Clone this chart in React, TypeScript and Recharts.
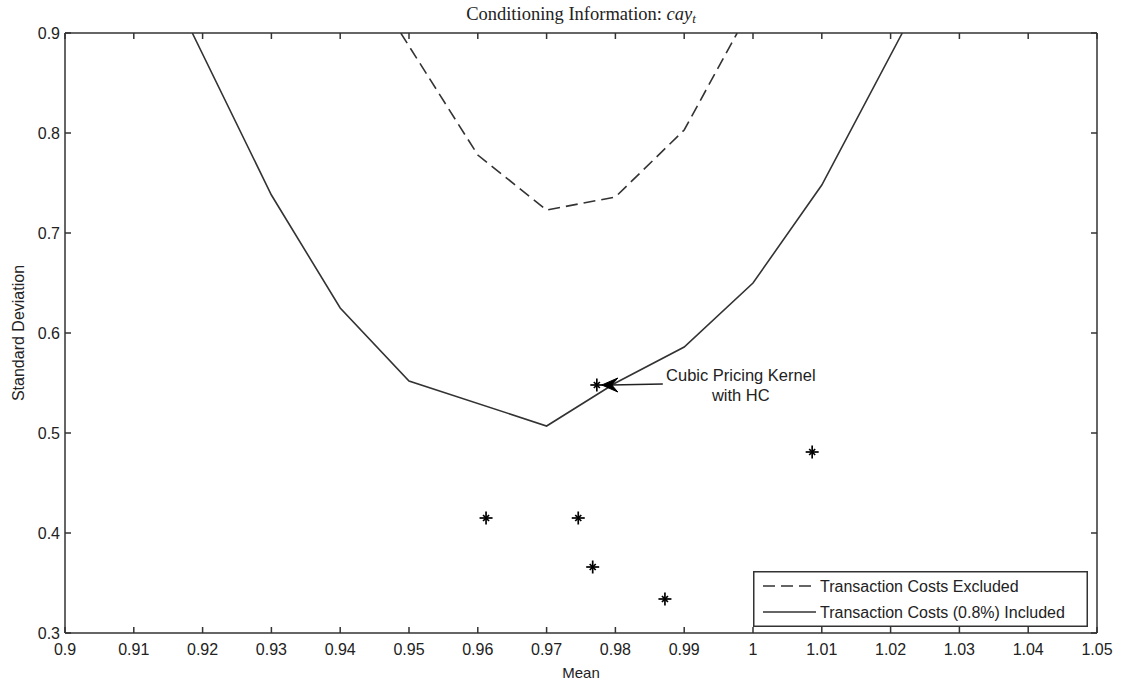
import React from 'react';
import { ComposedChart, Line, Scatter, XAxis, YAxis, Legend, ReferenceDot } from 'recharts';

const xTicks = [0.9, 0.91, 0.92, 0.93, 0.94, 0.95, 0.96, 0.97, 0.98, 0.99, 1.0, 1.01, 1.02, 1.03, 1.04, 1.05];
const yTicks = [0.3, 0.4, 0.5, 0.6, 0.7, 0.8, 0.9];

const excludedMean = [0.9488, 0.96, 0.97, 0.98, 0.99, 0.9977];
const excludedStd = [0.9, 0.778, 0.723, 0.736, 0.803, 0.9];

const includedMean = [0.9185, 0.93, 0.94, 0.95, 0.97, 0.98, 0.99, 1.0, 1.01, 1.0217];
const includedStd = [0.9, 0.738, 0.625, 0.552, 0.507, 0.55, 0.586, 0.65, 0.748, 0.9];

const kernelMean = [0.9612, 0.9746, 0.9767, 0.9872, 1.0086, 0.9773];
const kernelStd = [0.415, 0.415, 0.366, 0.334, 0.481, 0.548];

const annotationMean = 0.9773;
const annotationStd = 0.548;
const annotationLines = ['Cubic Pricing Kernel', 'with HC'];

const seriesNames = ['Transaction Costs Excluded', 'Transaction Costs (0.8%) Included'];
const titleText = 'Conditioning Information: ';
const titleVar = 'cay';
const titleSub = 't';
const xLabel = 'Mean';
const yLabel = 'Standard Deviation';

const excludedData = excludedMean.map((m, i) => ({ x: m, y: excludedStd[i] }));
const includedData = includedMean.map((m, i) => ({ x: m, y: includedStd[i] }));
const kernelData = kernelMean.map((m, i) => ({ x: m, y: kernelStd[i] }));

const SANS = 'Liberation Sans, Arial, Helvetica, sans-serif';
const SERIF = 'Liberation Serif, Times New Roman, serif';
const AX = '#333';
const LINE = '#333';
const DASH = '12 6';

const fmt = (v: number) => String(parseFloat(Number(v).toFixed(2)));

const XTickBottom = (props: any) => {
  const { x, y, payload } = props;
  return (
    <g>
      <line x1={x} x2={x} y1={y} y2={y - 6} stroke={AX} strokeWidth={1.5} />
      <text x={x} y={y + 22} textAnchor="middle" fontSize={16} fill="#222" fontFamily={SANS}>
        {fmt(payload.value)}
      </text>
    </g>
  );
};

const XTickTop = (props: any) => {
  const { x, y } = props;
  return <line x1={x} x2={x} y1={y} y2={y + 6} stroke={AX} strokeWidth={1.5} />;
};

const YTickLeft = (props: any) => {
  const { x, y, payload } = props;
  return (
    <g>
      <line x1={x} x2={x + 6} y1={y} y2={y} stroke={AX} strokeWidth={1.5} />
      <text x={x - 5} y={y + 6} textAnchor="end" fontSize={16} fill="#222" fontFamily={SANS}>
        {fmt(payload.value)}
      </text>
    </g>
  );
};

const YTickRight = (props: any) => {
  const { x, y } = props;
  return <line x1={x} x2={x - 6} y1={y} y2={y} stroke={AX} strokeWidth={1.5} />;
};

const StarShape = (props: any) => {
  const { cx, cy } = props;
  if (cx == null || cy == null) return null;
  return (
    <g stroke="#000" strokeWidth={1.7}>
      <line x1={cx - 6.5} x2={cx + 6.5} y1={cy} y2={cy} />
      <line x1={cx} x2={cx} y1={cy - 6.5} y2={cy + 6.5} />
      <line x1={cx - 3} x2={cx + 3} y1={cy - 3} y2={cy + 3} />
      <line x1={cx - 3} x2={cx + 3} y1={cy + 3} y2={cy - 3} />
    </g>
  );
};

const AnnotationShape = (props: any) => {
  const { cx, cy } = props;
  if (cx == null || cy == null) return null;
  return (
    <g>
      <line x1={cx + 66} y1={cy - 1} x2={cx + 14} y2={cy} stroke="#222" strokeWidth={1.5} />
      <polygon
        points={`${cx + 5},${cy} ${cx + 21},${cy - 7} ${cx + 15},${cy} ${cx + 21},${cy + 7}`}
        fill="#000"
        stroke="#000"
        strokeWidth={1}
      />
      <text x={cx + 144} y={cy - 4} textAnchor="middle" fontSize={16.5} fill="#222" fontFamily={SANS}>
        {annotationLines[0]}
      </text>
      <text x={cx + 144} y={cy + 16} textAnchor="middle" fontSize={16.5} fill="#222" fontFamily={SANS}>
        {annotationLines[1]}
      </text>
    </g>
  );
};

const TitleLabel = (props: any) => {
  const vb = props.viewBox || {};
  const cx = (vb.x ?? 65) + (vb.width ?? 1032) / 2;
  const top = (vb.y ?? 32) + (vb.height ?? 1);
  return (
    <text x={cx} y={top - 13} textAnchor="middle" fontSize={18.5} fill="#222" fontFamily={SERIF}>
      <tspan>{titleText}</tspan>
      <tspan fontStyle="italic">{titleVar}</tspan>
      <tspan fontStyle="italic" fontSize={13} dy={3}>{titleSub}</tspan>
    </text>
  );
};

const XLabel = (props: any) => {
  const vb = props.viewBox || {};
  const cx = (vb.x ?? 65) + (vb.width ?? 1032) / 2;
  const y = vb.y ?? 633;
  return (
    <text x={cx} y={y + 45} textAnchor="middle" fontSize={15} fill="#222" fontFamily={SANS}>
      {xLabel}
    </text>
  );
};

const YLabel = (props: any) => {
  const vb = props.viewBox || {};
  const cy = (vb.y ?? 33) + (vb.height ?? 600) / 2;
  const x = 24;
  return (
    <text x={x} y={cy} textAnchor="middle" fontSize={16} fill="#222" fontFamily={SANS} transform={`rotate(-90 ${x} ${cy})`}>
      {yLabel}
    </text>
  );
};

const LegendContent = (props: any) => {
  const all = (props.payload || []).filter((p: any) => p.type !== 'none');
  const items = seriesNames
    .map((n) => all.find((p: any) => p.value === n))
    .filter((p: any) => !!p);
  return (
    <svg width={335} height={56} style={{ display: 'block' }}>
      <rect x={0.75} y={0.75} width={333.5} height={54.5} fill="#fff" stroke={AX} strokeWidth={1.5} />
      {items.map((it: any, i: number) => {
        const y = 15 + i * 26;
        const dash = it.payload && it.payload.strokeDasharray;
        return (
          <g key={i}>
            <line x1={10} x2={63} y1={y} y2={y} stroke={LINE} strokeWidth={1.5} strokeDasharray={dash} />
            <text x={67} y={y + 6} fontSize={16} fill="#222" fontFamily={SANS}>
              {it.value}
            </text>
          </g>
        );
      })}
    </svg>
  );
};

export default function App() {
  return (
    <div style={{ position: 'absolute', left: 0, top: 0, width: 1121, height: 683, background: '#fff' }}>
      <ComposedChart width={1121} height={683} margin={{ top: 32, right: 23, bottom: 49, left: 64 }}>
        <XAxis
          xAxisId="bottom"
          dataKey="x"
          type="number"
          orientation="bottom"
          domain={[0.9, 1.05]}
          allowDataOverflow
          ticks={xTicks}
          interval={0}
          height={1}
          tickSize={0}
          tickMargin={0}
          tickLine={false}
          tick={<XTickBottom />}
          axisLine={{ stroke: AX, strokeWidth: 1.5 }}
          label={<XLabel />}
        />
        <XAxis
          xAxisId="top"
          dataKey="x"
          type="number"
          orientation="top"
          domain={[0.9, 1.05]}
          allowDataOverflow
          ticks={xTicks}
          interval={0}
          height={1}
          tickSize={0}
          tickMargin={0}
          tickLine={false}
          tick={<XTickTop />}
          axisLine={{ stroke: AX, strokeWidth: 1.5 }}
          label={<TitleLabel />}
        />
        <YAxis
          yAxisId="left"
          dataKey="y"
          type="number"
          orientation="left"
          domain={[0.3, 0.9]}
          allowDataOverflow
          ticks={yTicks}
          interval={0}
          width={1}
          tickSize={0}
          tickMargin={0}
          tickLine={false}
          tick={<YTickLeft />}
          axisLine={{ stroke: AX, strokeWidth: 1.5 }}
          label={<YLabel />}
        />
        <YAxis
          yAxisId="right"
          dataKey="y"
          type="number"
          orientation="right"
          domain={[0.3, 0.9]}
          allowDataOverflow
          ticks={yTicks}
          interval={0}
          width={1}
          tickSize={0}
          tickMargin={0}
          tickLine={false}
          tick={<YTickRight />}
          axisLine={{ stroke: AX, strokeWidth: 1.5 }}
        />
        <Line
          xAxisId="bottom"
          yAxisId="left"
          data={excludedData}
          dataKey="y"
          name={seriesNames[0]}
          type="linear"
          stroke={LINE}
          strokeWidth={1.6}
          strokeDasharray={DASH}
          dot={false}
          activeDot={false}
          isAnimationActive={false}
        />
        <Line
          xAxisId="bottom"
          yAxisId="left"
          data={includedData}
          dataKey="y"
          name={seriesNames[1]}
          type="linear"
          stroke={LINE}
          strokeWidth={1.6}
          dot={false}
          activeDot={false}
          isAnimationActive={false}
        />
        <Line
          xAxisId="top"
          yAxisId="right"
          data={includedData}
          dataKey="y"
          stroke="none"
          legendType="none"
          dot={false}
          activeDot={false}
          isAnimationActive={false}
        />
        <Scatter
          xAxisId="bottom"
          yAxisId="left"
          data={kernelData}
          dataKey="y"
          legendType="none"
          shape={<StarShape />}
          isAnimationActive={false}
        />
        <ReferenceDot
          xAxisId="bottom"
          yAxisId="left"
          x={annotationMean}
          y={annotationStd}
          r={0}
          shape={<AnnotationShape />}
        />
        <Legend
          layout="vertical"
          align="center"
          verticalAlign="middle"
          width={335}
          height={56}
          wrapperStyle={{ left: 753, top: 571, width: 335, height: 56 }}
          content={<LegendContent />}
        />
      </ComposedChart>
    </div>
  );
}
